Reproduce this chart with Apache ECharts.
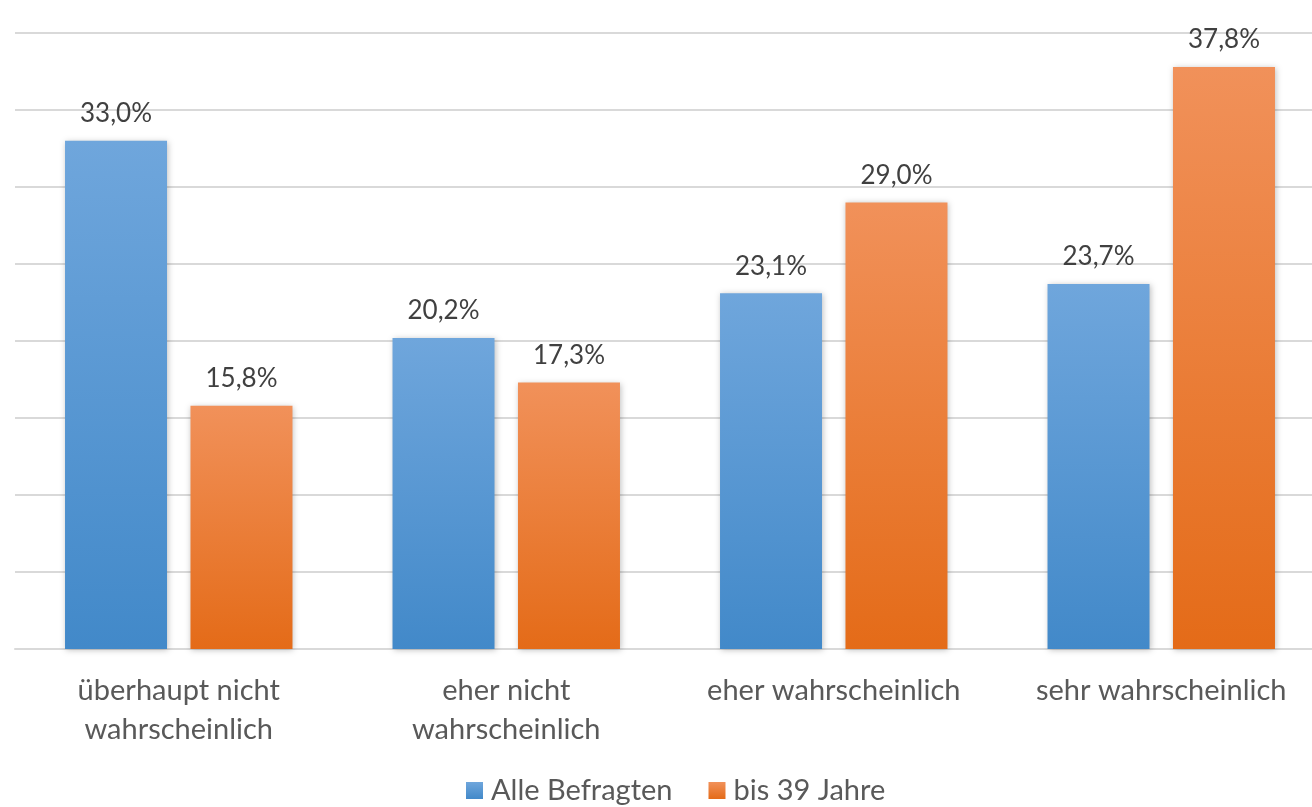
<!DOCTYPE html>
<html><head><meta charset="utf-8">
<script src="https://cdn.jsdelivr.net/npm/echarts@6/dist/echarts.min.js"></script>
<style>html,body{margin:0;padding:0;background:#fff;overflow:hidden;width:1312px;height:807px}#c{width:1326px;height:807px}</style>
</head><body><div id="c"></div>
<script>
const categories = ['überhaupt nicht\nwahrscheinlich', 'eher nicht\nwahrscheinlich', 'eher wahrscheinlich', 'sehr wahrscheinlich'];
const seriesNames = ['Alle Befragten', 'bis 39 Jahre'];
const alleBefragten = [33.0, 20.2, 23.1, 23.7];
const bis39 = [15.8, 17.3, 29.0, 37.8];

const font = 'Lato, "Open Sans", sans-serif';
function grad(top, bottom) {
  return new echarts.graphic.LinearGradient(0, 0, 0, 1, [{offset: 0, color: top}, {offset: 1, color: bottom}]);
}
const blue = grad('#6fa6dc', '#4289c9');
const orange = grad('#f1915a', '#e46b18');
const label = {
  show: true, position: 'top', distance: 14,
  formatter: p => p.value.toFixed(1).replace('.', ',') + '%',
  fontFamily: font, fontSize: 26, color: '#404040'
};
const chart = echarts.init(document.getElementById('c'));
chart.setOption({
  animation: false,
  grid: {left: 15, right: 1, top: 33, bottom: 158},
  legend: {
    bottom: -3, left: 461, itemWidth: 17, itemHeight: 17, itemGap: 36,
    icon: 'rect',
    textStyle: {fontFamily: font, fontSize: 29, color: '#595959', padding: [0, 0, 0, 3]},
    data: seriesNames
  },
  xAxis: {
    type: 'category', data: categories,
    axisLine: {lineStyle: {color: '#d9d9d9', width: 2}},
    axisTick: {show: false},
    axisLabel: {fontFamily: font, fontSize: 29, color: '#595959', lineHeight: 39, margin: 22, interval: 0}
  },
  yAxis: {
    type: 'value', min: 0, max: 40, interval: 5,
    axisLabel: {show: false}, axisLine: {show: false}, axisTick: {show: false},
    splitLine: {lineStyle: {color: '#d9d9d9', width: 2}}
  },
  series: [
    {name: seriesNames[0], type: 'bar', data: alleBefragten, barWidth: 102, barGap: '23%',
     itemStyle: {color: blue, shadowColor: 'rgba(0,0,0,0.25)', shadowBlur: 6, shadowOffsetX: 1, shadowOffsetY: 1}, label: label},
    {name: seriesNames[1], type: 'bar', data: bis39, barWidth: 102,
     itemStyle: {color: orange, shadowColor: 'rgba(0,0,0,0.25)', shadowBlur: 6, shadowOffsetX: 1, shadowOffsetY: 1}, label: label}
  ]
});
</script></body></html>
